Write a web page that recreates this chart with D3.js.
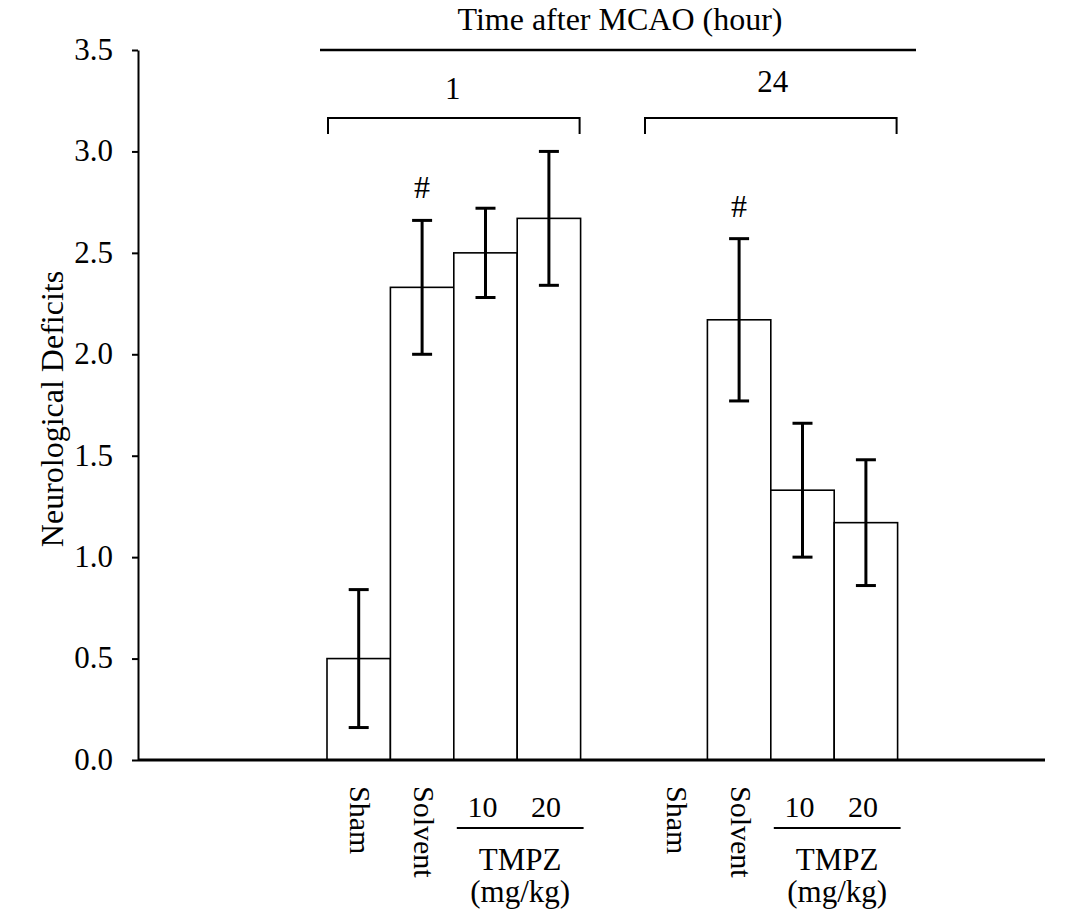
<!DOCTYPE html>
<html>
<head>
<meta charset="utf-8">
<script src="https://cdn.jsdelivr.net/npm/d3@7"></script>
<style>
  body { margin: 0; background: #fff; }
  text { font-family: "Liberation Serif", "Times New Roman", serif; fill: #000; }
</style>
</head>
<body>
<svg id="chart" width="1077" height="918"></svg>
<script>
// slot keys: 9 slots, one empty gap between the two time groups
var slots = ["1-sham", "1-solvent", "1-10", "1-20", "gap", "24-sham", "24-solvent", "24-10", "24-20"];
var means = [0.5, 2.33, 2.5, 2.67, null, 0, 2.17, 1.33, 1.17];
var errs  = [0.34, 0.33, 0.22, 0.33, null, 0, 0.40, 0.33, 0.31];
var sig   = [false, true, false, false, false, false, true, false, false];
var yTicks = [0, 0.5, 1.0, 1.5, 2.0, 2.5, 3.0, 3.5];
var groups = [
  {label: "1", first: "1-sham", last: "1-20", treat: ["1-10", "1-20"], doses: ["10", "20"]},
  {label: "24", first: "24-sham", last: "24-20", treat: ["24-10", "24-20"], doses: ["10", "20"]}
];
var catLabels = [
  {slot: "1-sham", text: "Sham"}, {slot: "1-solvent", text: "Solvent"},
  {slot: "24-sham", text: "Sham"}, {slot: "24-solvent", text: "Solvent"}
];

var svg = d3.select("#chart");
var x = d3.scaleBand().domain(slots).range([327, 897.6]).padding(0);
var y = d3.scaleLinear().domain([0, 3.5]).range([760, 50]);
var axisX0 = 138, axisX1 = 1045;
var fs = "31px";

// y axis
var yAxis = d3.axisLeft(y).tickValues(yTicks).tickSize(6).tickSizeOuter(0)
  .tickFormat(d3.format(".1f"));
var gy = svg.append("g").attr("transform", "translate(" + axisX0 + ",0)").call(yAxis);
gy.select(".domain").attr("stroke", "#000").attr("stroke-width", 2);
gy.selectAll(".tick line").attr("stroke", "#000").attr("stroke-width", 2);
gy.selectAll(".tick text").attr("x", -25).attr("dy", "0.3em")
  .style("font-size", fs).style("font-family", "Liberation Serif, serif");

svg.append("text")
  .attr("transform", "translate(52," + (y(1.75) + 4) + ") rotate(-90)")
  .attr("text-anchor", "middle").attr("dy", "0.35em")
  .style("font-size", "32px")
  .text("Neurological Deficits");

// bars
var data = slots.map(function(s, i) { return {slot: s, m: means[i], e: errs[i], sig: sig[i]}; });
var barData = data.filter(function(d) { return d.m; });

svg.selectAll("rect.bar").data(barData).enter().append("rect")
  .attr("class", "bar")
  .attr("x", function(d) { return x(d.slot); })
  .attr("y", function(d) { return y(d.m); })
  .attr("width", x.bandwidth())
  .attr("height", function(d) { return y(0) - y(d.m); })
  .attr("fill", "#fff").attr("stroke", "#000").attr("stroke-width", 1.6);

// error bars
var cap = 10;
var eb = svg.selectAll("g.err").data(barData).enter().append("g").attr("class", "err")
  .attr("stroke", "#000").attr("stroke-width", 3);
eb.append("line")
  .attr("x1", function(d) { return x(d.slot) + x.bandwidth() / 2; })
  .attr("x2", function(d) { return x(d.slot) + x.bandwidth() / 2; })
  .attr("y1", function(d) { return y(d.m + d.e); })
  .attr("y2", function(d) { return y(d.m - d.e); });
[1, -1].forEach(function(s) {
  eb.append("line")
    .attr("x1", function(d) { return x(d.slot) + x.bandwidth() / 2 - cap; })
    .attr("x2", function(d) { return x(d.slot) + x.bandwidth() / 2 + cap; })
    .attr("y1", function(d) { return y(d.m + s * d.e); })
    .attr("y2", function(d) { return y(d.m + s * d.e); });
});

// significance marks
svg.selectAll("text.sig").data(data.filter(function(d) { return d.sig; })).enter()
  .append("text").attr("class", "sig")
  .attr("x", function(d) { return x(d.slot) + x.bandwidth() / 2; })
  .attr("y", function(d) { return y(d.m + d.e) - 22; })
  .attr("text-anchor", "middle")
  .style("font-size", "32px")
  .text("#");

// x axis line
svg.append("line").attr("x1", axisX0).attr("x2", axisX1)
  .attr("y1", y(0)).attr("y2", y(0))
  .attr("stroke", "#000").attr("stroke-width", 3);

// top header
svg.append("text").attr("x", 620).attr("y", 30).attr("text-anchor", "middle")
  .style("font-size", "32px").text("Time after MCAO (hour)");
svg.append("line").attr("x1", 320).attr("x2", 916).attr("y1", 50).attr("y2", 50)
  .attr("stroke", "#000").attr("stroke-width", 2.5);

groups.forEach(function(g, i) {
  var x0 = x(g.first) + 1, x1 = x(g.last) + x.bandwidth() - 1;
  svg.append("path")
    .attr("d", "M" + x0 + ",134V118H" + x1 + "V134")
    .attr("fill", "none").attr("stroke", "#000").attr("stroke-width", 2);
  svg.append("text")
    .attr("x", i === 0 ? (x0 + x1) / 2 - 1 : (x0 + x1) / 2 + 2)
    .attr("y", i === 0 ? 99 : 92).attr("text-anchor", "middle")
    .style("font-size", fs).text(g.label);

  // dose labels and TMPZ under bars
  g.treat.forEach(function(s, j) {
    svg.append("text").attr("x", x(s) + x.bandwidth() / 2 - 3).attr("y", 817)
      .attr("text-anchor", "middle").style("font-size", "30px").text(g.doses[j]);
  });
  var t0 = x(g.treat[0]) + 3, t1 = x(g.treat[1]) + x.bandwidth() + 3;
  svg.append("line").attr("x1", t0).attr("x2", t1).attr("y1", 828).attr("y2", 828)
    .attr("stroke", "#000").attr("stroke-width", 2);
  svg.append("text").attr("x", (t0 + t1) / 2).attr("y", 870)
    .attr("text-anchor", "middle").style("font-size", "31px").text("TMPZ");
  svg.append("text").attr("x", (t0 + t1) / 2).attr("y", 902)
    .attr("text-anchor", "middle").style("font-size", "31px").text("(mg/kg)");
});

// rotated category labels
svg.selectAll("text.cat").data(catLabels).enter().append("text").attr("class", "cat")
  .attr("transform", function(d) {
    return "translate(" + (x(d.slot) + x.bandwidth() / 2 + 2) + ",786) rotate(90)";
  })
  .attr("text-anchor", "start").attr("dy", "0.35em")
  .style("font-size", "30px")
  .text(function(d) { return d.text; });
</script>
</body>
</html>
